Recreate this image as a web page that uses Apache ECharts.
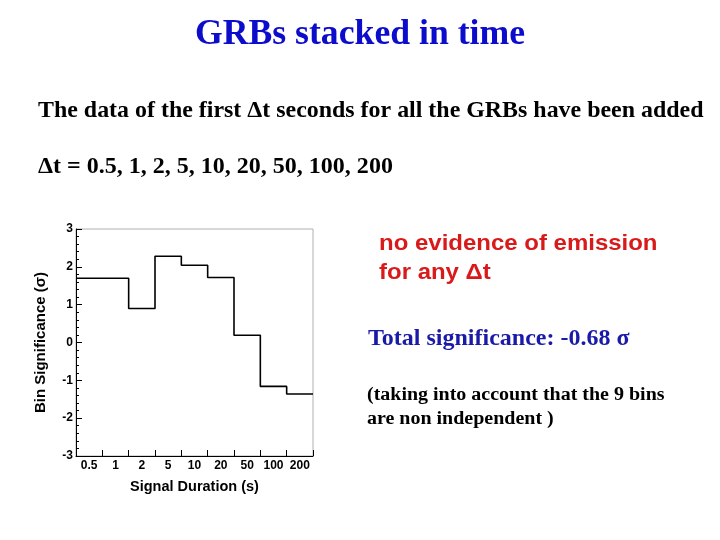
<!DOCTYPE html>
<html><head><meta charset="utf-8">
<script src="https://cdn.jsdelivr.net/npm/echarts@6/dist/echarts.min.js"></script>
<style>html,body{margin:0;padding:0;background:#fff}#c{width:720px;height:540px}</style>
</head><body><div id="c"></div>
<script>
const binLabels = ['0.5','1','2','5','10','20','50','100','200'];
const binValues = [1.70, 1.70, 0.90, 2.28, 2.04, 1.72, 0.19, -1.16, -1.36];
const yTicks = [-3, 3, 1];

const stepData = binValues.map((v, i) => [i, v]);
stepData.push([binValues.length, binValues[binValues.length - 1]]);

const chart = echarts.init(document.getElementById('c'));
const bold = {fontFamily: 'Liberation Sans, Arial', fontWeight: 'bold', color: '#000'};
const serif = '"Liberation Serif", "Times New Roman", serif';
const sans = '"Liberation Sans", Arial, sans-serif';
function txt(x, y, text, font, fill, sx, align) {
  return {type: 'text', x: x, y: y, scaleX: sx || 1,
    style: {text: text, font: font, fill: fill, align: align || 'left', verticalAlign: 'middle'}};
}
chart.setOption({
  animation: false,
  backgroundColor: '#fff',
  grid: {left: 76, right: 407, top: 229, bottom: 84, show: true, borderColor: '#b0b0b0', borderWidth: 1, backgroundColor: 'transparent'},
  xAxis: [{
    type: 'value', min: 0, max: binLabels.length, interval: 1,
    axisLine: {show: true, onZero: false, lineStyle: {color: '#000', width: 1}},
    axisTick: {show: true, inside: true, length: 6, lineStyle: {color: '#000'}},
    axisLabel: {show: false}, splitLine: {show: false},
    name: 'Signal Duration (s)', nameLocation: 'middle', nameGap: 23,
    nameTextStyle: Object.assign({fontSize: 14.5}, bold)
  }, {
    type: 'category', data: binLabels, position: 'bottom', boundaryGap: true,
    axisLine: {show: false, onZero: false}, axisTick: {show: false},
    axisLabel: Object.assign({fontSize: 12, margin: 4}, bold)
  }],
  yAxis: {
    type: 'value', min: yTicks[0], max: yTicks[1], interval: yTicks[2],
    axisLine: {show: true, onZero: false, lineStyle: {color: '#000', width: 1}},
    axisTick: {show: true, inside: true, length: 6, lineStyle: {color: '#000'}},
    minorTick: {show: true, splitNumber: 5, length: 3, lineStyle: {color: '#000'}},
    splitLine: {show: false},
    axisLabel: Object.assign({fontSize: 12, margin: 3}, bold),
    name: 'Bin Significance (σ)', nameLocation: 'middle', nameGap: 28, nameRotate: 90,
    nameTextStyle: Object.assign({fontSize: 15}, bold)
  },
  series: [{
    type: 'line', xAxisIndex: 0, step: 'end', data: stepData, symbol: 'none',
    lineStyle: {color: '#000', width: 1.6}
  }],
  graphic: [
    txt(360, 35, 'GRBs stacked in time', 'bold 35px ' + serif, '#0c0ccc', 1.02, 'center'),
    txt(38, 111, 'The data of the first Δt seconds for all the GRBs have been added', 'bold 23px ' + serif, '#000', 1.04),
    txt(38, 167, 'Δt = 0.5, 1, 2, 5, 10, 20, 50, 100, 200', 'bold 23px ' + serif, '#000', 1.044),
    txt(379, 244, 'no evidence of emission', 'bold 22px ' + sans, '#d81a1a', 1.09),
    txt(379, 273, 'for any Δt', 'bold 22px ' + sans, '#d81a1a', 1.09),
    txt(368, 339, 'Total significance: -0.68 σ', 'bold 24px ' + serif, '#1a1aa8', 1),
    txt(367, 395, '(taking into account that the 9 bins', 'bold 18.5px ' + serif, '#000', 1.08),
    txt(367, 419, 'are non independent )', 'bold 18.5px ' + serif, '#000', 1.08)
  ]
});
</script></body></html>
